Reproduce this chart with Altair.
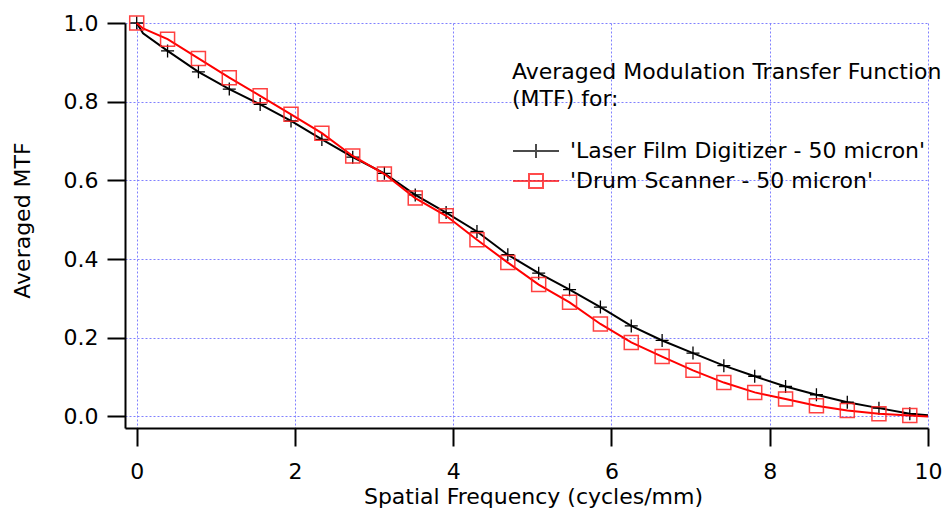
import altair as alt
import pandas as pd

# ---- data ----
series = ["'Laser Film Digitizer - 50 micron'", "'Drum Scanner - 50 micron'"]

marker_freq = [0.0, 0.39, 0.78, 1.17, 1.56, 1.95, 2.34, 2.73, 3.13, 3.52,
               3.91, 4.30, 4.69, 5.08, 5.47, 5.86, 6.25, 6.64, 7.03, 7.42,
               7.81, 8.20, 8.59, 8.98, 9.38, 9.77]
laser_mtf = [1.0, 0.929, 0.876, 0.832, 0.793, 0.751, 0.704, 0.659, 0.618, 0.563,
             0.518, 0.470, 0.411, 0.364, 0.322, 0.278, 0.230, 0.193, 0.161, 0.129,
             0.102, 0.076, 0.055, 0.036, 0.021, 0.007]
drum_mtf = [1.0, 0.959, 0.910, 0.861, 0.815, 0.768, 0.720, 0.662, 0.616, 0.555,
            0.510, 0.449, 0.391, 0.335, 0.290, 0.235, 0.188, 0.152, 0.117, 0.086,
            0.061, 0.044, 0.027, 0.015, 0.007, 0.002]

# extra points of the continuous curves (between / beyond markers)
extra_freq = [0.08, 10.0]
laser_extra = [0.974, 0.003]
drum_extra = [0.986, 0.0]

x_ticks = [0, 2, 4, 6, 8, 10]
y_ticks = [0.0, 0.2, 0.4, 0.6, 0.8, 1.0]

FONT = "DejaVu Sans"
GRID = "#8080ff"

laser_pts = pd.DataFrame({"freq": marker_freq, "mtf": laser_mtf})
drum_pts = pd.DataFrame({"freq": marker_freq, "mtf": drum_mtf})
laser_line = pd.DataFrame({"freq": marker_freq + extra_freq,
                           "mtf": laser_mtf + laser_extra}).sort_values("freq")
drum_line = pd.DataFrame({"freq": marker_freq + extra_freq,
                          "mtf": drum_mtf + drum_extra}).sort_values("freq")
legend_df = pd.DataFrame({"series": series})

x_axis = alt.Axis(values=x_ticks, format="d", tickSize=18, tickWidth=2,
                  tickColor="black", domainColor="black", domainWidth=2,
                  labelFontSize=22, labelColor="black", labelFont=FONT,
                  labelPadding=15, labelFlush=False, labelOverlap=False,
                  grid=True, gridColor=GRID, gridDash=[2, 2], gridWidth=1,
                  title="Spatial Frequency (cycles/mm)", titleFont=FONT,
                  titleFontSize=22, titleFontWeight="normal", titleColor="black",
                  titleX=408, titleY=75, titleBaseline="alphabetic")
y_axis = alt.Axis(values=y_ticks, format=".1f", tickSize=18, tickWidth=2,
                  tickColor="black", domainColor="black", domainWidth=2,
                  labelFontSize=22, labelColor="black", labelFont=FONT,
                  labelPadding=9, labelFlush=False, labelOverlap=False,
                  grid=True, gridColor=GRID, gridDash=[2, 2], gridWidth=1,
                  title="Averaged MTF", titleFont=FONT, titleFontSize=22,
                  titleFontWeight="normal", titleColor="black",
                  titleAngle=270, titleX=-96, titleY=197,
                  titleBaseline="alphabetic", titleAlign="center")

X = alt.X("freq:Q", scale=alt.Scale(domain=[-0.148, 10], nice=False, zero=False), axis=x_axis)
Y = alt.Y("mtf:Q", scale=alt.Scale(domain=[-0.0295, 1.0], nice=False, zero=False), axis=y_axis)

black_line = alt.Chart(laser_line).mark_line(color="black", strokeWidth=2).encode(x=X, y=Y)
black_pts = alt.Chart(laser_pts).mark_point(
    shape="M-1,0H1M0,-1V1", size=169, filled=False, color="black", strokeWidth=1.3, opacity=1
).encode(x=X, y=Y)
red_line = alt.Chart(drum_line).mark_line(color="#ff0000", strokeWidth=2).encode(x=X, y=Y)
red_pts = alt.Chart(drum_pts).mark_point(
    shape="square", size=196, filled=False, color="#ff2020", strokeWidth=1.5, opacity=0.85
).encode(x=X, y=Y)

legend_common = dict(
    orient="none", legendX=387, legendY=39, padding=0,
    title=["Averaged Modulation Transfer Function", "(MTF) for:"],
    titleFont=FONT, titleFontSize=22, titleFontWeight="normal", titleColor="black",
    titleLineHeight=27, titlePadding=29, titleAnchor="start", titleLimit=700,
    labelFont=FONT, labelFontSize=22, labelColor="black", labelOffset=23,
    symbolSize=400, symbolOffset=13, symbolStrokeWidth=2, rowPadding=8,
    labelLimit=700,
)
legend_layer = alt.Chart(legend_df).transform_filter("false").mark_point(filled=False).encode(
    color=alt.Color("series:N", scale=alt.Scale(domain=series, range=["black", "#ff0000"]),
                    legend=alt.Legend(**legend_common)),
    shape=alt.Shape("series:N", scale=alt.Scale(domain=series, range=[
        "M-2.3,0H2.3M0,-0.7V0.7",
        "M-2.3,0H2.3M-0.7,-0.7H0.7V0.7H-0.7Z"]),
        legend=alt.Legend(**legend_common)),
)

chart = alt.layer(black_line, black_pts, red_line, red_pts, legend_layer).properties(
    width=803, height=405,
    autosize=alt.AutoSizeParams(type="none"),
    padding={"left": 117, "top": 15, "right": 15, "bottom": 80},
    background="white",
).configure_view(stroke=None)

chart.save("out.html", embed_options={"renderer": "svg", "actions": False})
